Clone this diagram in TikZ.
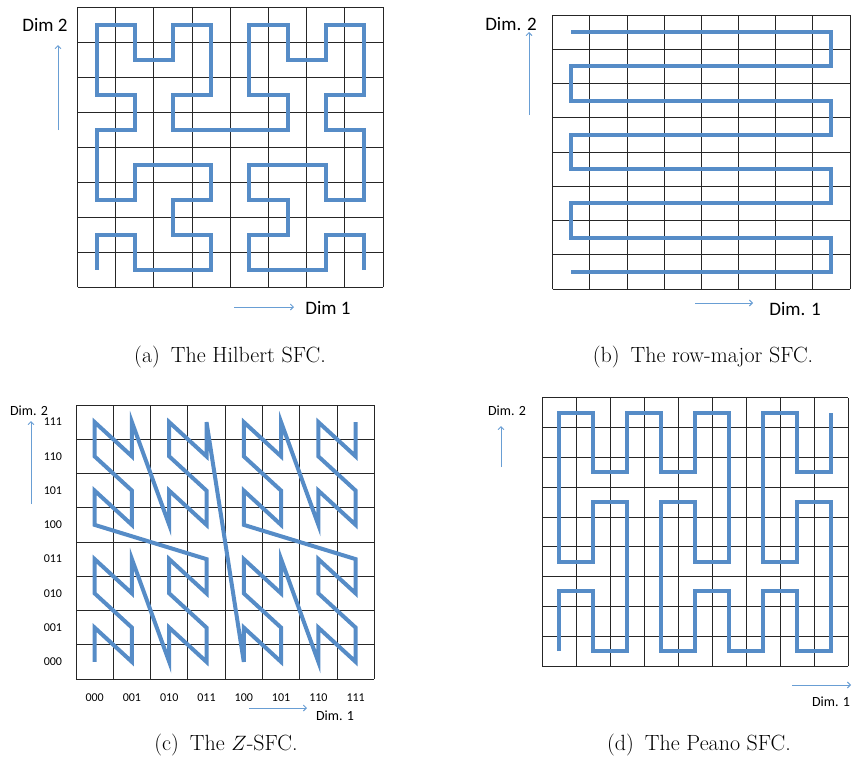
\documentclass[tikz,border=0pt]{standalone}
\usepackage{fontspec}
\newfontfamily\calibri{Carlito}
\usetikzlibrary{arrows.meta}
\definecolor{curveblue}{RGB}{86,140,199}
\definecolor{axisblue}{RGB}{105,158,212}

\begin{document}
\begin{tikzpicture}[x=1pt,y=-1pt,>={Straight Barb[length=3pt,width=6pt]},
  gridline/.style={draw=black!85,line width=0.9pt},
  sfcpath/.style={draw=curveblue,line width=4pt},
  dimarrow/.style={->,draw=axisblue,line width=0.9pt},
  dimtext/.style={font=\calibri\fontsize{19}{22}\selectfont,inner sep=0pt},
  smalldimtext/.style={font=\calibri\fontsize{14}{16}\selectfont,inner sep=0pt},
  bitlabel/.style={font=\calibri\fontsize{12}{14}\selectfont,inner sep=0pt},
  captext/.style={font=\fontsize{22}{26}\selectfont,inner sep=0pt}]
  \useasboundingbox (0,0) rectangle (852,763);

  % (a) Hilbert
  \begin{scope}[shift={(77.5,287)},x=38.19pt,y=34.94pt]
    \foreach \i in {0,...,8}
      \draw[gridline] (\i,0) -- (\i,8) (0,\i) -- (8,\i);
    \draw[sfcpath,shift={(0.5,0.5)}] (0,0) -- (0,1) -- (1,1) -- (1,0) -- (3,0) -- (3,1) -- (2,1) -- (2,2)
      -- (3,2) -- (3,3) -- (1,3) -- (1,2) -- (0,2) -- (0,4) -- (1,4) -- (1,5) -- (0,5) -- (0,7)
      -- (1,7) -- (1,6) -- (2,6) -- (2,7) -- (3,7) -- (3,5) -- (2,5) -- (2,4) -- (5,4) -- (5,5)
      -- (4,5) -- (4,7) -- (5,7) -- (5,6) -- (6,6) -- (6,7) -- (7,7) -- (7,5) -- (6,5) -- (6,4)
      -- (7,4) -- (7,2) -- (6,2) -- (6,3) -- (4,3) -- (4,2) -- (5,2) -- (5,1) -- (4,1) -- (4,0)
      -- (6,0) -- (6,1) -- (7,1) -- (7,0);
  \end{scope}
  \node[dimtext] (hdim2) at (45,25) {Dim 2};
  \node[dimtext] (hdim1) at (328,308) {Dim 1};
  \draw[dimarrow] (58,130) -- (58,45);
  \draw[dimarrow] (234,307) -- (294,307);
  \node[captext] (capa) at (230,357) {(a)\enspace The Hilbert SFC.};

  % (b) row-major
  \begin{scope}[shift={(552.7,289)},x=37.16pt,y=34.25pt]
    \foreach \i in {0,...,8}
      \draw[gridline] (\i,0) -- (\i,8) (0,\i) -- (8,\i);
    \draw[sfcpath,shift={(0.5,0.5)}] (0,7) -- (7,7) -- (7,6) -- (0,6) -- (0,5) -- (7,5) -- (7,4) -- (0,4)
      -- (0,3) -- (7,3) -- (7,2) -- (0,2) -- (0,1) -- (7,1) -- (7,0) -- (0,0);
  \end{scope}
  \node[dimtext] (rdim2) at (511,24) {Dim. 2};
  \node[dimtext] (rdim1) at (795,309) {Dim. 1};
  \draw[dimarrow] (529,115) -- (529,32);
  \draw[dimarrow] (695,303) -- (753,303);
  \node[captext] (capb) at (703,357) {(b)\enspace The row-major SFC.};

  % (c) Z-order
  \begin{scope}[shift={(76,679)},x=37.29pt,y=34.25pt]
    \foreach \i in {0,...,8}
      \draw[gridline] (\i,0) -- (\i,8) (0,\i) -- (8,\i);
    \foreach \b [count=\i from 0] in {000,001,010,011,100,101,110,111} {
      \node[bitlabel] at (-0.62,\i+0.5) {\b};
      \node[bitlabel] at (\i+0.5,-0.53) {\b};
    }
    \draw[sfcpath,shift={(0.5,0.5)}] (0,0) -- (0,1) -- (1,0) -- (1,1) -- (0,2) -- (0,3) -- (1,2) -- (1,3)
      -- (2,0) -- (2,1) -- (3,0) -- (3,1) -- (2,2) -- (2,3) -- (3,2) -- (3,3)
      -- (0,4) -- (0,5) -- (1,4) -- (1,5) -- (0,6) -- (0,7) -- (1,6) -- (1,7)
      -- (2,4) -- (2,5) -- (3,4) -- (3,5) -- (2,6) -- (2,7) -- (3,6) -- (3,7)
      -- (4,0) -- (4,1) -- (5,0) -- (5,1) -- (4,2) -- (4,3) -- (5,2) -- (5,3)
      -- (6,0) -- (6,1) -- (7,0) -- (7,1) -- (6,2) -- (6,3) -- (7,2) -- (7,3)
      -- (4,4) -- (4,5) -- (5,4) -- (5,5) -- (4,6) -- (4,7) -- (5,6) -- (5,7)
      -- (6,4) -- (6,5) -- (7,4) -- (7,5) -- (6,6) -- (6,7) -- (7,6) -- (7,7);
  \end{scope}
  \node[smalldimtext] (zdim2) at (29,411) {Dim. 2};
  \node[smalldimtext] (zdim1) at (335,716) {Dim. 1};
  \draw[dimarrow] (31,504) -- (31,421);
  \draw[dimarrow] (249,708) -- (307,708);
  \node[captext] (capc) at (226,745) {(c)\enspace The $Z$-SFC.};

  % (d) Peano
  \begin{scope}[shift={(542.3,666)},x=33.97pt,y=29.81pt]
    \foreach \i in {0,...,9}
      \draw[gridline] (\i,0) -- (\i,9) (0,\i) -- (9,\i);
    \draw[sfcpath,shift={(0.5,0.5)}] (0,0) -- (0,2) -- (1,2) -- (1,0) -- (2,0) -- (2,5) -- (1,5) -- (1,3)
      -- (0,3) -- (0,8) -- (1,8) -- (1,6) -- (2,6) -- (2,8) -- (3,8) -- (3,6) -- (4,6) -- (4,8)
      -- (5,8) -- (5,3) -- (4,3) -- (4,5) -- (3,5) -- (3,0) -- (4,0) -- (4,2) -- (5,2) -- (5,0)
      -- (6,0) -- (6,2) -- (7,2) -- (7,0) -- (8,0) -- (8,5) -- (7,5) -- (7,3) -- (6,3) -- (6,8)
      -- (7,8) -- (7,6) -- (8,6) -- (8,8);
  \end{scope}
  \node[smalldimtext] (pdim2) at (507,411) {Dim. 2};
  \node[smalldimtext] (pdim1) at (831,702) {Dim. 1};
  \draw[dimarrow] (501,467) -- (501,426);
  \draw[dimarrow] (792,685) -- (851,685);
  \node[captext] (capd) at (699,745) {(d)\enspace The Peano SFC.};
\end{tikzpicture}
\end{document}
